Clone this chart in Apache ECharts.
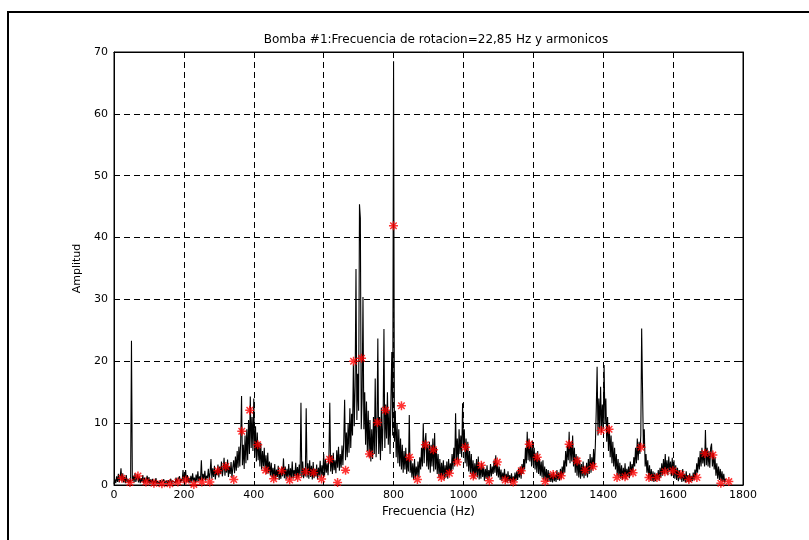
<!DOCTYPE html>
<html>
<head>
<meta charset="utf-8">
<script src="https://cdn.jsdelivr.net/npm/echarts@6/dist/echarts.min.js"></script>
<style>
  html, body { margin: 0; padding: 0; background: #fff; }
  #chart { width: 809px; height: 540px; }
</style>
</head>
<body>
<div id="chart"></div>
<script>
// Rotation frequency of pump #1 (Hz); harmonics sit at k * f0
const f0 = 22.85;

// Spectrum sampled every 2.5 Hz starting at 0 Hz (20 samples per 50 Hz row)
const specStep = 2.5;
const specAmp = [
  /* 0    */ 0.2, 0.9, 0.3, 1.4, 0.5, 1.8, 0.4, 1.2, 2.7, 0.6, 1.9, 0.4, 1.3, 0.3, 1.6, 0.5, 1.0, 0.3, 0.8, 0.4,
  /* 50   */ 23.3, 0.6, 1.5, 0.4, 1.9, 0.5, 1.2, 1.7, 0.4, 1.4, 0.3, 1.1, 0.5, 1.6, 0.3, 1.2, 0.4, 0.9, 1.5, 0.3,
  /* 100  */ 1.3, 0.2, 0.9, 0.4, 1.0, 0.2, 0.7, 0.3, 1.1, 0.2, 0.6, 0.9, 0.2, 0.8, 0.3, 0.6, 0.2, 0.9, 0.3, 0.5,
  /* 150  */ 0.7, 0.2, 0.8, 0.3, 0.5, 1.0, 0.2, 0.7, 0.4, 0.9, 0.3, 1.2, 0.4, 0.8, 0.5, 1.4, 0.4, 1.0, 0.6, 2.4,
  /* 200  */ 0.5, 1.3, 2.4, 0.4, 1.6, 0.5, 1.1, 0.3, 1.5, 0.4, 1.9, 0.6, 1.2, 0.3, 1.7, 0.5, 2.2, 0.6, 1.4, 0.8,
  /* 250  */ 4.0, 0.6, 1.8, 0.9, 2.3, 0.7, 1.5, 1.1, 2.6, 0.8, 2.0, 4.2, 1.0, 2.7, 1.3, 3.1, 0.9, 2.4, 1.6, 3.3,
  /* 300  */ 1.2, 3.0, 1.8, 3.8, 1.4, 2.6, 4.4, 1.5, 3.4, 2.0, 4.1, 1.3, 3.0, 1.8, 3.7, 1.2, 2.8, 4.0, 1.9, 4.6,
  /* 350  */ 2.3, 5.5, 2.8, 6.2, 3.0, 7.0, 14.4, 3.2, 6.5, 2.6, 8.0, 3.5, 9.0, 4.0, 10.5, 5.0, 14.3, 6.0, 11.0, 5.5,
  /* 400  */ 14.0, 4.5, 9.5, 3.8, 8.5, 4.0, 7.0, 3.0, 6.8, 2.5, 5.5, 3.0, 6.0, 2.2, 4.8, 1.8, 5.2, 2.0, 3.8, 1.5,
  /* 450  */ 3.6, 1.2, 2.8, 1.0, 3.4, 0.9, 2.5, 1.3, 3.1, 0.8, 2.2, 1.0, 2.9, 1.4, 4.3, 1.1, 3.0, 0.9, 2.6, 1.2,
  /* 500  */ 3.4, 0.8, 2.7, 1.1, 3.8, 1.0, 2.4, 1.4, 3.6, 1.0, 2.9, 1.2, 3.3, 1.5, 13.3, 1.3, 3.8, 1.1, 2.7, 1.4,
  /* 550  */ 12.4, 1.2, 3.5, 1.0, 4.0, 1.3, 3.1, 0.9, 3.7, 1.1, 2.6, 1.4, 3.3, 0.9, 2.8, 1.5, 3.9, 1.2, 3.2, 1.6,
  /* 600  */ 5.0, 1.5, 4.2, 2.0, 3.5, 1.6, 4.6, 13.3, 2.2, 4.8, 1.8, 5.2, 2.4, 4.0, 1.9, 5.6, 2.8, 6.2, 2.3, 5.0,
  /* 650  */ 2.8, 6.4, 3.2, 7.2, 13.8, 4.0, 8.5, 4.5, 10.0, 5.2, 12.4, 6.0, 11.5, 8.0, 19.5, 9.5, 16.0, 34.9, 10.5, 18.0,
  /* 700  */ 12.0, 45.4, 43.1, 9.0, 14.0, 30.4, 9.0, 15.0, 6.5, 13.5, 5.5, 12.0, 4.5, 10.5, 3.8, 9.0, 4.2, 11.0, 5.0, 17.2,
  /* 750  */ 4.5, 9.0, 23.7, 5.0, 11.0, 4.0, 12.5, 5.5, 10.0, 25.2, 6.0, 13.0, 7.5, 15.0, 6.5, 12.0, 5.0, 14.0, 21.5, 8.0,
  /* 800  */ 68.5, 7.0, 12.0, 4.5, 10.0, 3.5, 9.0, 3.0, 7.5, 2.5, 6.5, 2.0, 5.5, 2.5, 6.0, 1.8, 4.5, 2.2, 11.3, 2.0,
  /* 850  */ 4.0, 1.2, 3.5, 0.9, 4.2, 1.0, 3.0, 1.4, 3.8, 1.2, 4.5, 2.5, 6.0, 3.0, 10.0, 3.5, 7.0, 8.4, 3.0, 6.5,
  /* 900  */ 2.5, 7.0, 2.0, 6.5, 3.0, 7.5, 2.2, 8.4, 2.5, 6.0, 1.8, 5.0, 1.2, 4.2, 1.0, 3.6, 1.4, 4.0, 0.9, 3.2,
  /* 950  */ 1.2, 3.8, 1.0, 4.2, 1.6, 3.5, 2.0, 5.0, 2.5, 6.0, 3.0, 11.6, 4.0, 7.5, 3.5, 9.0, 5.0, 8.0, 4.5, 13.2,
  /* 1000 */ 6.0, 9.0, 3.5, 7.5, 3.0, 7.0, 2.2, 5.5, 1.8, 5.0, 1.4, 4.0, 1.0, 3.5, 1.5, 4.2, 1.2, 4.6, 0.9, 3.0,
  /* 1050 */ 1.0, 3.6, 1.3, 3.0, 0.7, 2.6, 1.0, 3.2, 0.8, 2.4, 1.2, 3.4, 1.4, 3.0, 1.8, 4.0, 2.0, 4.8, 1.5, 3.6,
  /* 1100 */ 1.2, 3.0, 0.8, 2.5, 0.6, 2.0, 1.0, 2.6, 0.5, 1.8, 0.4, 2.2, 0.6, 1.6, 0.3, 1.9, 0.5, 1.4, 0.4, 2.0,
  /* 1150 */ 0.6, 2.2, 0.8, 2.6, 1.2, 3.0, 1.0, 3.4, 1.8, 4.2, 2.5, 6.0, 3.5, 8.6, 4.0, 7.5, 3.8, 6.5, 3.0, 7.2,
  /* 1200 */ 3.2, 6.0, 2.5, 5.2, 2.0, 5.5, 1.8, 4.4, 1.5, 3.8, 1.2, 4.0, 0.9, 3.0, 0.7, 2.6, 0.5, 2.4, 0.6, 2.0,
  /* 1250 */ 0.5, 1.8, 0.4, 2.1, 0.6, 1.6, 0.5, 2.4, 0.8, 2.0, 0.7, 2.6, 1.0, 3.0, 1.6, 4.0, 2.0, 5.5, 3.0, 6.5,
  /* 1300 */ 4.0, 8.6, 3.5, 7.0, 3.8, 8.0, 3.0, 6.0, 2.0, 5.0, 1.5, 4.6, 1.2, 4.0, 1.0, 3.4, 1.4, 3.8, 1.1, 3.0,
  /* 1350 */ 1.5, 3.6, 1.2, 4.2, 1.8, 5.0, 2.0, 4.5, 2.5, 5.8, 3.0, 6.5, 12.0, 19.1, 8.0, 14.0, 9.0, 15.9, 8.5, 13.0,
  /* 1400 */ 9.0, 19.4, 10.0, 14.0, 7.0, 11.0, 5.5, 9.5, 4.5, 8.0, 3.5, 7.0, 3.0, 6.0, 2.5, 5.0, 1.5, 4.2, 1.2, 3.6,
  /* 1450 */ 1.0, 3.2, 0.8, 2.8, 1.2, 3.5, 0.9, 2.6, 1.4, 3.0, 1.1, 3.8, 1.6, 3.4, 2.0, 4.5, 3.0, 6.0, 3.5, 7.5,
  /* 1500 */ 4.0, 7.0, 5.0, 8.0, 25.3, 15.4, 6.0, 9.0, 3.0, 5.0, 2.0, 4.0, 1.0, 3.2, 0.7, 2.6, 0.6, 2.2, 0.5, 2.0,
  /* 1550 */ 0.6, 1.8, 0.9, 2.4, 0.7, 2.8, 1.2, 3.5, 1.5, 4.2, 1.8, 5.0, 2.0, 4.0, 1.6, 4.6, 2.2, 3.8, 1.4, 4.4,
  /* 1600 */ 1.5, 4.0, 1.0, 3.2, 0.8, 2.8, 0.6, 2.4, 0.9, 2.0, 0.5, 2.6, 0.6, 1.8, 0.4, 2.2, 0.5, 1.6, 0.4, 1.9,
  /* 1650 */ 0.5, 1.5, 0.6, 2.0, 0.8, 2.5, 1.2, 3.5, 2.0, 4.5, 2.5, 5.5, 3.0, 6.0, 3.5, 5.5, 3.0, 8.9, 3.2, 6.0,
  /* 1700 */ 3.0, 5.5, 2.8, 6.0, 6.7, 3.0, 5.2, 2.5, 4.5, 1.5, 3.5, 1.0, 3.0, 0.8, 2.6, 0.6, 2.2, 0.5, 1.8, 0.4,
  /* 1750 */ 1.0
];

// Amplitude at each harmonic k = 1 .. 77
const harmonicAmp = [
  1.1, 0.4, 1.45, 0.5, 0.27, 0.2, 0.2, 0.5, 0.8, 0.1,
  0.5, 0.5, 2.3, 3.0, 0.9, 8.7, 12.1, 6.5, 2.4, 1.0,
  2.3, 0.8, 1.2, 2.15, 2.0, 0.97, 4.15, 0.4, 2.4, 20.0,
  20.5, 5.0, 10.1, 12.1, 41.9, 12.8, 4.5, 0.9, 6.5, 5.7,
  1.2, 1.9, 3.7, 6.1, 1.45, 3.2, 0.7, 3.7, 0.8, 0.5,
  2.3, 6.6, 4.5, 0.6, 1.7, 1.5, 6.6, 3.9, 2.4, 3.0,
  8.8, 9.0, 1.2, 1.35, 2.0, 6.1, 1.2, 1.2, 2.15, 2.3,
  1.7, 0.9, 1.2, 5.1, 4.85, 0.27, 0.55
];

const xTicks = { min: 0, max: 1800, interval: 200 };
const yTicks = { min: 0, max: 70, interval: 10 };

const titleText = 'Bomba #1:Frecuencia de rotacion=22,85 Hz y armonicos';
const xName = 'Frecuencia (Hz)';
const yName = 'Amplitud';

const spectrum = specAmp.map((a, i) => [i * specStep, a]);
const harmonics = harmonicAmp.map((a, i) => [(i + 1) * f0, a]);

// Eight-armed star, like a plotted '*'
const starPath = 'path://M0,-5L0,5M-5,0L5,0M-3.6,-3.6L3.6,3.6M-3.6,3.6L3.6,-3.6';

const FONT = 'DejaVu Sans, Liberation Sans, Arial, sans-serif';
const gridLine = { show: true, lineStyle: { color: '#000', type: [6, 4], width: 1 } };
const plain = v => String(v);

const chart = echarts.init(document.getElementById('chart'), null, { renderer: 'canvas' });
chart.setOption({
  animation: false,
  backgroundColor: '#fff',
  title: {
    text: titleText,
    left: 431, top: 29, textAlign: 'center',
    textStyle: { fontFamily: FONT, fontSize: 12, fontWeight: 'normal', color: '#000' }
  },
  grid: { left: 114, top: 52, right: 66, bottom: 55, show: true, borderColor: '#000', borderWidth: 1 },
  xAxis: [{
    type: 'value', min: xTicks.min, max: xTicks.max, interval: xTicks.interval,
    name: xName, nameLocation: 'middle', nameGap: 17,
    nameTextStyle: { fontFamily: FONT, fontSize: 12, color: '#000' },
    axisLine: { show: true, onZero: false, lineStyle: { color: '#000' } },
    axisTick: { show: true, inside: true, length: 4, lineStyle: { color: '#000' } },
    axisLabel: { fontFamily: FONT, fontSize: 11, color: '#000', margin: 5, formatter: plain },
    splitLine: gridLine
  }, {
    type: 'value', position: 'top', min: xTicks.min, max: xTicks.max, interval: xTicks.interval,
    axisLine: { show: true, onZero: false, lineStyle: { color: '#000' } },
    axisTick: { show: true, inside: true, length: 4, lineStyle: { color: '#000' } },
    axisLabel: { show: false }, splitLine: { show: false }
  }],
  yAxis: [{
    type: 'value', min: yTicks.min, max: yTicks.max, interval: yTicks.interval,
    name: yName, nameLocation: 'middle', nameGap: 31, nameRotate: 90,
    nameTextStyle: { fontFamily: FONT, fontSize: 11, color: '#000' },
    axisLine: { show: true, onZero: false, lineStyle: { color: '#000' } },
    axisTick: { show: true, inside: true, length: 4, lineStyle: { color: '#000' } },
    axisLabel: { fontFamily: FONT, fontSize: 11, color: '#000', margin: 6, formatter: plain },
    splitLine: gridLine
  }, {
    type: 'value', position: 'right', min: yTicks.min, max: yTicks.max, interval: yTicks.interval,
    axisLine: { show: true, onZero: false, lineStyle: { color: '#000' } },
    axisTick: { show: true, inside: true, length: 4, lineStyle: { color: '#000' } },
    axisLabel: { show: false }, splitLine: { show: false }
  }],
  graphic: [{
    type: 'rect', silent: true,
    shape: { x: 8, y: 12, width: 1000, height: 800 },
    style: { fill: 'none', stroke: '#000', lineWidth: 2 }
  }],
  series: [{
    type: 'line', data: spectrum, xAxisIndex: 0, yAxisIndex: 0,
    symbol: 'none', sampling: null,
    lineStyle: { color: '#000', width: 1.1 },
    z: 3
  }, {
    type: 'scatter', data: harmonics, xAxisIndex: 0, yAxisIndex: 0,
    symbol: starPath, symbolSize: 9,
    itemStyle: { color: 'none', borderColor: '#ff0000', borderWidth: 1.5 },
    z: 4
  }]
});
</script>
</body>
</html>
